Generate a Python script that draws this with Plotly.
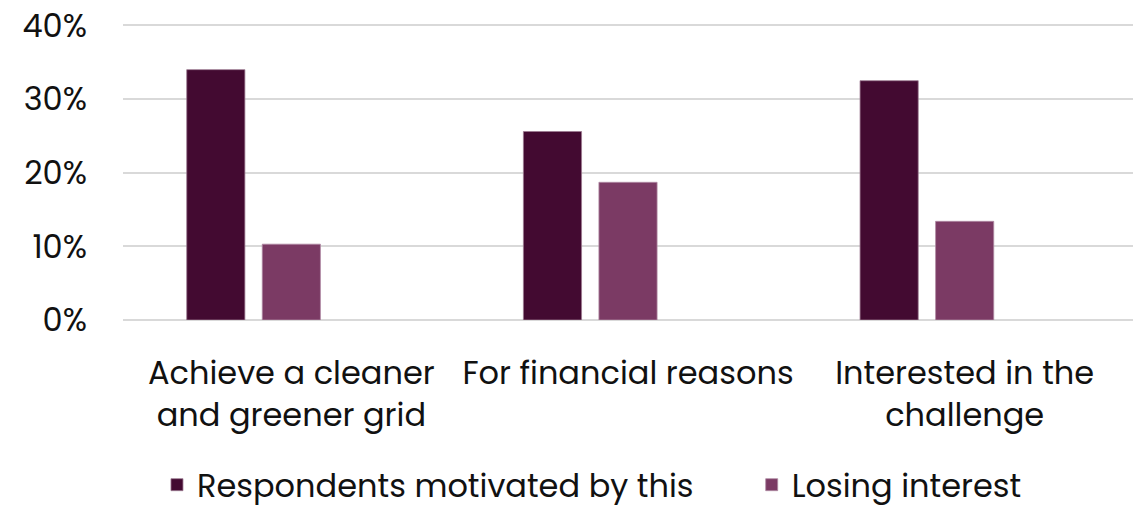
import plotly.graph_objects as go

categories = ["Achieve a cleaner<br>and greener grid", "For financial reasons", "Interested in the<br>challenge"]
motivated = [0.340, 0.256, 0.325]
losing = [0.103, 0.187, 0.134]
placeholder = [None, None, None]
tick_vals = [0, 0.1, 0.2, 0.3, 0.4]
tick_text = ["0%", "10%", "20%", "30%", "40%"]

FONT = "Poppins, Open Sans, sans-serif"

fig = go.Figure()
fig.add_trace(go.Bar(x=categories, y=motivated, name="Respondents motivated by this",
                     marker=dict(color="#430A31", line=dict(color="#9c7a90", width=0.8)),
                     legend="legend"))
fig.add_trace(go.Bar(x=categories, y=losing, name="Losing interest",
                     marker=dict(color="#7B3A64", line=dict(color="#b08aa3", width=0.8)),
                     legend="legend2"))
fig.add_trace(go.Bar(x=categories, y=placeholder, name="", showlegend=False,
                     marker=dict(color="rgba(0,0,0,0)")))

leg_common = dict(orientation="h", yref="paper", xref="container", yanchor="middle", xanchor="left",
                  font=dict(size=32), itemwidth=30, bgcolor="rgba(0,0,0,0)")

fig.update_layout(
    width=1145, height=505,
    margin=dict(l=123, r=12, t=23.5, b=185, autoexpand=False),
    paper_bgcolor="white", plot_bgcolor="white",
    barmode="group", bargap=0.327, bargroupgap=0.23,
    font=dict(family=FONT, size=32, color="#111111"),
    showlegend=True,
    legend=dict(x=0.1371, y=-0.557, **leg_common),
    legend2=dict(x=0.6565, y=-0.557, **leg_common),
    xaxis=dict(showline=False, ticks="", tickfont=dict(size=32), automargin=False,
               ticklabelstandoff=31),
    yaxis=dict(range=[0, 0.402], tickvals=tick_vals, ticktext=tick_text,
               showgrid=True, gridcolor="#d9d9d9", gridwidth=1.5,
               zeroline=True, zerolinecolor="#d9d9d9", zerolinewidth=1.5,
               tickfont=dict(size=32), ticks="", ticklabelstandoff=35, automargin=False,
               ticklabeloverflow="allow"),
)

fig.write_html("out.html", config={"displayModeBar": False},
               post_script="document.body.style.margin='0';")
